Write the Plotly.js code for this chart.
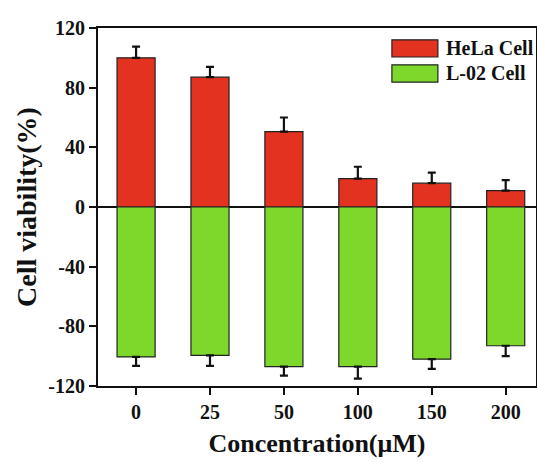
<!DOCTYPE html>
<html>
<head>
<meta charset="utf-8">
<script src="https://cdn.plot.ly/plotly-3.0.1.min.js"></script>
<style>html,body{margin:0;padding:0;background:#fff;}#chart{width:537px;height:462px;}</style>
</head>
<body>
<div id="chart"></div>
<script>
const categories = ['0', '25', '50', '100', '150', '200'];
const helaName = 'HeLa Cell';
const l02Name = 'L-02 Cell';
const helaValues = [100, 87, 50.5, 19, 16, 11];
const helaErrors = [7.5, 7, 9.5, 8, 7, 7];
const l02Values = [-100.5, -99.5, -107, -107, -102, -93];
const l02Errors = [6, 7, 6, 8, 6.5, 7];
const yTickValues = [-120, -80, -40, 0, 40, 80, 120];
const yTickLabels = ['-120', '-80', '-40', '0', '40', '80', '120'];

const FONT = 'Liberation Serif, Times New Roman, serif';
const RED = '#e3321f';
const GREEN = '#7ed82c';

const hela = {
  type: 'bar', name: helaName, x: categories, y: helaValues,
  marker: {color: RED, line: {color: '#222', width: 1.2}},
  error_y: {type: 'data', symmetric: false, array: helaErrors,
            arrayminus: helaErrors.map(() => 0), color: '#111', thickness: 2.2, width: 4},
  width: 0.515, showlegend: false
};
const l02 = {
  type: 'bar', name: l02Name, x: categories, y: l02Values,
  marker: {color: GREEN, line: {color: '#222', width: 1.2}},
  error_y: {type: 'data', symmetric: false, array: l02Errors.map(() => 0),
            arrayminus: l02Errors, color: '#111', thickness: 2.2, width: 4},
  width: 0.515, showlegend: false
};

const legendItems = [[helaName, RED, 0.943], [l02Name, GREEN, 0.873]];
const shapes = legendItems.map(([n, c, yc]) => ({
  type: 'rect', xref: 'paper', yref: 'paper',
  x0: 0.671, x1: 0.776, y0: yc - 0.024, y1: yc + 0.024,
  fillcolor: c, line: {color: '#222', width: 1.2}
}));
const annotations = legendItems.map(([n, c, yc]) => ({
  xref: 'paper', yref: 'paper', x: 0.79, y: yc, xanchor: 'left', yanchor: 'middle',
  text: '<b>' + n + '</b>', showarrow: false,
  font: {family: FONT, size: 20, color: '#111'}
}));

const layout = {
  width: 537, height: 462,
  margin: {l: 98, r: 1, t: 28, b: 76},
  paper_bgcolor: '#fff', plot_bgcolor: '#fff',
  barmode: 'overlay',
  showlegend: false,
  xaxis: {
    type: 'category', range: [-0.515, 5.41],
    showline: true, linecolor: '#111', linewidth: 2, mirror: true,
    ticks: 'outside', ticklen: 7, tickwidth: 2, tickcolor: '#111',
    showgrid: false, zeroline: false,
    tickfont: {family: FONT, size: 20, color: '#111', weight: 'bold'},
    title: {text: '<b>Concentration(μM)</b>', font: {family: FONT, size: 26, color: '#111'}, standoff: 12}
  },
  yaxis: {
    range: [-120, 120], tickmode: 'array', tickvals: yTickValues, ticktext: yTickLabels,
    showline: true, linecolor: '#111', linewidth: 2, mirror: true,
    ticks: 'outside', ticklen: 7, tickwidth: 2, tickcolor: '#111',
    showgrid: false, zeroline: true, zerolinecolor: '#111', zerolinewidth: 2.5,
    tickfont: {family: FONT, size: 20, color: '#111', weight: 'bold'},
    title: {text: '<b>Cell viability(%)</b>', font: {family: FONT, size: 28, color: '#111'}, standoff: 4}
  },
  shapes: shapes,
  annotations: annotations
};

Plotly.newPlot('chart', [hela, l02], layout, {displayModeBar: false, staticPlot: true});
</script>
</body>
</html>
